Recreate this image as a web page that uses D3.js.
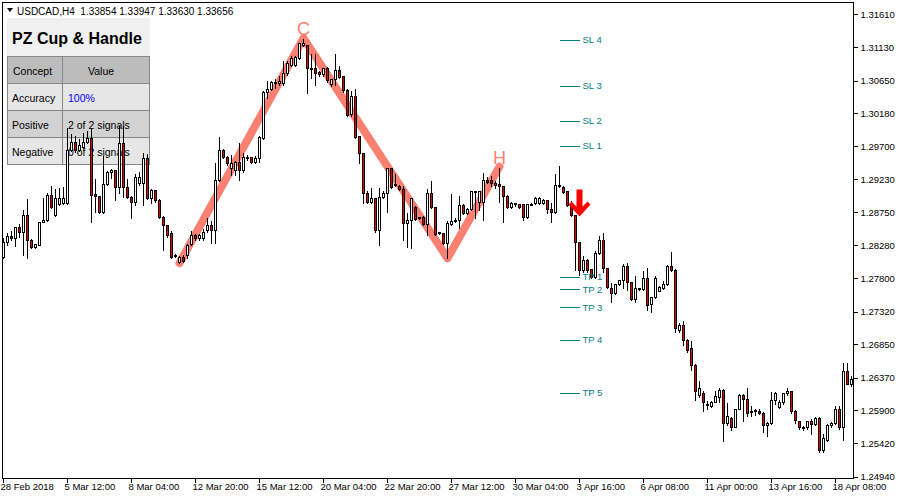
<!DOCTYPE html>
<html><head><meta charset="utf-8">
<script src="https://cdn.jsdelivr.net/npm/d3@7"></script>
<style>
html,body{margin:0;padding:0;background:#fff;}
svg{display:block;font-family:"Liberation Sans",Arial,sans-serif;}
</style>
</head><body>
<svg id="c" width="900" height="500"></svg>
<script>
// ---------- DATA (USDCAD, H4) ----------
const openP = [1.2811,1.2833,1.2841,1.2838,1.2854,1.2847,1.2871,1.2835,1.2825,1.2828,1.2861,1.2864,1.2900,1.2871,1.2887,1.2889,1.2889,1.2965,1.2977,1.2965,1.2969,1.2977,1.2982,1.2902,1.2899,1.2876,1.2916,1.2933,1.2936,1.2912,1.2975,1.2912,1.2897,1.2890,1.2917,1.2917,1.2953,1.2896,1.2907,1.2893,1.2869,1.2857,1.2845,1.2812,1.2804,1.2811,1.2814,1.2830,1.2843,1.2838,1.2838,1.2850,1.2857,1.2850,1.2922,1.2965,1.2955,1.2939,1.2936,1.2948,1.2936,1.2953,1.2955,1.2948,1.2953,1.2982,1.3049,1.3053,1.3061,1.3061,1.3061,1.3076,1.3087,1.3087,1.3097,1.3116,1.3116,1.3083,1.3083,1.3077,1.3074,1.3083,1.3060,1.3067,1.3080,1.3072,1.3051,1.3017,1.3043,1.2985,1.2961,1.2903,1.2890,1.2896,1.2850,1.2897,1.2903,1.2939,1.2915,1.2913,1.2909,1.2860,1.2864,1.2883,1.2867,1.2869,1.2858,1.2903,1.2883,1.2845,1.2845,1.2831,1.2858,1.2863,1.2864,1.2886,1.2874,1.2880,1.2906,1.2890,1.2890,1.2922,1.2922,1.2917,1.2916,1.2913,1.2899,1.2883,1.2889,1.2887,1.2887,1.2869,1.2887,1.2889,1.2889,1.2889,1.2893,1.2880,1.2876,1.2915,1.2912,1.2906,1.2886,1.2871,1.2833,1.2792,1.2807,1.2794,1.2782,1.2817,1.2835,1.2795,1.2766,1.2759,1.2772,1.2778,1.2798,1.2775,1.2750,1.2765,1.2765,1.2781,1.2743,1.2753,1.2762,1.2766,1.2772,1.2798,1.2792,1.2706,1.2713,1.2691,1.2680,1.2655,1.2612,1.2615,1.2599,1.2596,1.2602,1.2609,1.2619,1.2572,1.2579,1.2566,1.2592,1.2612,1.2606,1.2588,1.2589,1.2589,1.2586,1.2568,1.2572,1.2604,1.2595,1.2602,1.2614,1.2618,1.2589,1.2575,1.2565,1.2565,1.2575,1.2570,1.2578,1.2532,1.2547,1.2568,1.2572,1.2591,1.2565,1.2647,1.2628];
const highP = [1.2840,1.2847,1.2850,1.2856,1.2860,1.2880,1.2896,1.2838,1.2831,1.2863,1.2897,1.2905,1.2915,1.2910,1.2912,1.2913,1.2998,1.2989,1.2987,1.2982,1.2991,1.2994,1.2998,1.2925,1.2900,1.2958,1.2936,1.2939,1.2938,1.3001,1.3001,1.2925,1.2900,1.2932,1.2935,1.2962,1.2961,1.2910,1.2909,1.2896,1.2871,1.2858,1.2850,1.2817,1.2814,1.2815,1.2831,1.2850,1.2845,1.2845,1.2853,1.2869,1.2864,1.2948,1.2985,1.2968,1.2958,1.2959,1.2951,1.2977,1.2962,1.2959,1.2956,1.2958,1.2987,1.3051,1.3066,1.3066,1.3069,1.3073,1.3095,1.3095,1.3102,1.3102,1.3121,1.3126,1.3118,1.3105,1.3105,1.3080,1.3085,1.3086,1.3069,1.3105,1.3087,1.3073,1.3054,1.3051,1.3054,1.2987,1.2962,1.2907,1.2912,1.2897,1.2912,1.2907,1.2941,1.2941,1.2932,1.2916,1.2915,1.2876,1.2897,1.2886,1.2870,1.2871,1.2910,1.2922,1.2884,1.2848,1.2847,1.2864,1.2903,1.2869,1.2900,1.2889,1.2883,1.2907,1.2907,1.2907,1.2933,1.2928,1.2929,1.2922,1.2941,1.2915,1.2902,1.2892,1.2890,1.2889,1.2889,1.2889,1.2890,1.2899,1.2899,1.2896,1.2894,1.2890,1.2932,1.2943,1.2915,1.2907,1.2893,1.2873,1.2833,1.2814,1.2809,1.2795,1.2821,1.2843,1.2847,1.2797,1.2775,1.2773,1.2779,1.2802,1.2804,1.2776,1.2785,1.2768,1.2792,1.2797,1.2755,1.2785,1.2771,1.2778,1.2801,1.2820,1.2795,1.2717,1.2720,1.2694,1.2691,1.2658,1.2634,1.2619,1.2605,1.2605,1.2619,1.2624,1.2622,1.2602,1.2582,1.2593,1.2615,1.2615,1.2624,1.2598,1.2593,1.2593,1.2588,1.2575,1.2617,1.2618,1.2606,1.2615,1.2624,1.2619,1.2591,1.2576,1.2568,1.2576,1.2579,1.2581,1.2581,1.2557,1.2572,1.2575,1.2598,1.2598,1.2660,1.2660,1.2640];
const lowP = [1.2809,1.2828,1.2835,1.2827,1.2840,1.2814,1.2809,1.2824,1.2824,1.2828,1.2861,1.2863,1.2881,1.2870,1.2886,1.2887,1.2887,1.2964,1.2962,1.2964,1.2968,1.2975,1.2861,1.2876,1.2874,1.2874,1.2915,1.2925,1.2893,1.2903,1.2897,1.2896,1.2867,1.2886,1.2915,1.2886,1.2894,1.2889,1.2890,1.2867,1.2821,1.2840,1.2809,1.2811,1.2802,1.2804,1.2809,1.2828,1.2835,1.2835,1.2835,1.2847,1.2831,1.2831,1.2920,1.2953,1.2943,1.2929,1.2929,1.2922,1.2933,1.2951,1.2946,1.2946,1.2948,1.2981,1.3040,1.3051,1.3054,1.3059,1.3059,1.3073,1.3086,1.3086,1.3096,1.3115,1.3047,1.3069,1.3059,1.3072,1.3072,1.3063,1.3057,1.3059,1.3069,1.3049,1.3014,1.3014,1.2982,1.2946,1.2889,1.2889,1.2889,1.2847,1.2828,1.2896,1.2876,1.2910,1.2913,1.2907,1.2835,1.2825,1.2824,1.2864,1.2866,1.2857,1.2843,1.2881,1.2843,1.2844,1.2830,1.2809,1.2857,1.2861,1.2853,1.2873,1.2873,1.2879,1.2867,1.2879,1.2864,1.2917,1.2913,1.2910,1.2890,1.2861,1.2881,1.2881,1.2884,1.2881,1.2864,1.2867,1.2886,1.2887,1.2887,1.2887,1.2874,1.2861,1.2874,1.2912,1.2903,1.2884,1.2870,1.2792,1.2785,1.2789,1.2789,1.2781,1.2781,1.2815,1.2789,1.2766,1.2746,1.2758,1.2771,1.2766,1.2763,1.2749,1.2746,1.2763,1.2763,1.2735,1.2732,1.2752,1.2761,1.2765,1.2771,1.2791,1.2703,1.2703,1.2684,1.2674,1.2648,1.2605,1.2609,1.2588,1.2591,1.2595,1.2601,1.2602,1.2545,1.2569,1.2562,1.2565,1.2591,1.2575,1.2581,1.2582,1.2583,1.2585,1.2559,1.2552,1.2570,1.2599,1.2593,1.2599,1.2612,1.2586,1.2572,1.2563,1.2562,1.2563,1.2555,1.2569,1.2530,1.2529,1.2546,1.2566,1.2570,1.2563,1.2547,1.2627,1.2625];
const closeP = [1.2833,1.2841,1.2838,1.2854,1.2847,1.2871,1.2835,1.2825,1.2830,1.2861,1.2864,1.2900,1.2883,1.2896,1.2896,1.2896,1.2965,1.2977,1.2965,1.2972,1.2977,1.2982,1.2900,1.2899,1.2876,1.2916,1.2933,1.2936,1.2912,1.2975,1.2912,1.2897,1.2890,1.2926,1.2926,1.2953,1.2896,1.2907,1.2893,1.2869,1.2857,1.2843,1.2811,1.2814,1.2811,1.2805,1.2828,1.2843,1.2838,1.2843,1.2847,1.2857,1.2850,1.2922,1.2965,1.2955,1.2946,1.2946,1.2948,1.2936,1.2955,1.2955,1.2948,1.2953,1.2984,1.3049,1.3053,1.3063,1.3063,1.3064,1.3076,1.3090,1.3097,1.3099,1.3119,1.3119,1.3083,1.3082,1.3076,1.3074,1.3083,1.3066,1.3067,1.3080,1.3070,1.3051,1.3015,1.3043,1.2984,1.2961,1.2903,1.2890,1.2896,1.2850,1.2897,1.2903,1.2939,1.2912,1.2916,1.2909,1.2860,1.2864,1.2896,1.2866,1.2869,1.2858,1.2903,1.2883,1.2844,1.2847,1.2831,1.2860,1.2863,1.2864,1.2886,1.2874,1.2880,1.2906,1.2905,1.2906,1.2922,1.2919,1.2917,1.2915,1.2913,1.2899,1.2883,1.2889,1.2887,1.2883,1.2869,1.2887,1.2886,1.2896,1.2896,1.2893,1.2880,1.2876,1.2915,1.2913,1.2905,1.2886,1.2871,1.2833,1.2792,1.2807,1.2792,1.2782,1.2817,1.2835,1.2795,1.2768,1.2759,1.2772,1.2778,1.2798,1.2775,1.2750,1.2766,1.2766,1.2781,1.2742,1.2753,1.2781,1.2768,1.2772,1.2798,1.2792,1.2709,1.2713,1.2691,1.2677,1.2655,1.2617,1.2622,1.2601,1.2598,1.2602,1.2611,1.2619,1.2572,1.2581,1.2566,1.2592,1.2612,1.2606,1.2586,1.2587,1.2590,1.2586,1.2568,1.2572,1.2604,1.2614,1.2602,1.2614,1.2618,1.2589,1.2576,1.2566,1.2564,1.2575,1.2570,1.2578,1.2532,1.2550,1.2568,1.2572,1.2591,1.2565,1.2647,1.2628,1.2635];

const xTickBars   = [0,16,32,48,64,80,96,112,128,144,160,176,192,208];
const xTickLabels = ["28 Feb 2018","5 Mar 12:00","8 Mar 04:00","12 Mar 20:00","15 Mar 12:00","20 Mar 04:00","22 Mar 20:00","27 Mar 12:00","30 Mar 04:00","3 Apr 16:00","6 Apr 08:00","11 Apr 00:00","13 Apr 16:00","18 Apr 08:00"];
const yTickValues = [1.31610,1.31130,1.30650,1.30180,1.29700,1.29230,1.28750,1.28280,1.27800,1.27320,1.26850,1.26370,1.25900,1.25420,1.24940];

const levelLabels = ["SL 4","SL 3","SL 2","SL 1","TP 1","TP 2","TP 3","TP 4","TP 5"];
const levelValues = [1.3124,1.3057,1.3007,1.2971,1.2782,1.2764,1.2738,1.2691,1.2615];
const levelStartBar = 139, levelEndBar = 144;

const patternBars   = [44, 75, 111, 124];
const patternPrices = [1.2802, 1.3126, 1.2809, 1.2941];
const patternLabels = ["", "C", "", "H"];

const signalBar = 144, signalPrice = 1.2869;

const headerSymbol = "USDCAD,H4";
const headerQuotes = ["1.33854","1.33947","1.33630","1.33656"];
const panelTitle = "PZ Cup & Handle";
const tableHead = ["Concept","Value"];
const tableConcepts = ["Accuracy","Positive","Negative"];
const tableValues = ["100%","2 of 2 signals","0 of 2 signals"];

// ---------- DRAW ----------
const svg = d3.select("#c");
const x = d3.scaleLinear().domain([0, 212]).range([3, 851]);
const y = d3.scaleLinear().domain([1.24940, 1.31610]).range([476.7, 14]);
const cx = i => x(i) + 0.5;
const ry = v => Math.round(y(v)) + 0.5;
const FS = "9.5px";

// header
svg.append("path").attr("d","M7,8 L13,8 L10,12 Z").attr("fill","#000");
svg.append("text").attr("x",17).attr("y",14.5).attr("font-size","10px").attr("fill","#000")
  .style("white-space","pre").text(headerSymbol + "  " + headerQuotes.join(" "));

// info panel (behind the candles)
const tb = svg.append("g").attr("shape-rendering","crispEdges");
tb.append("rect").attr("x",7).attr("y",18).attr("width",143).attr("height",38).attr("fill","#f0f0f0");
tb.append("text").attr("x",12).attr("y",43.5).attr("font-size","16px").attr("font-weight","bold")
  .attr("fill","#000").text(panelTitle);
const rowFill = ["#e6e6e6","#d2d2d2","#e6e6e6"];
tb.append("rect").attr("x",7.5).attr("y",56.5).attr("width",142).attr("height",27).attr("fill","#bcbcbc");
tableConcepts.forEach((c,k)=>{
  tb.append("rect").attr("x",7.5).attr("y",83.5+27*k).attr("width",142).attr("height",27).attr("fill",rowFill[k]);
});
const bc = "#878787";
tb.append("rect").attr("x",7.5).attr("y",56.5).attr("width",142).attr("height",108)
  .attr("fill","none").attr("stroke",bc).attr("stroke-width",1.5);
[83.5,110.5,137.5].forEach(v=>tb.append("line").attr("x1",7.5).attr("x2",149.5).attr("y1",v).attr("y2",v).attr("stroke",bc).attr("stroke-width",1.5));
tb.append("line").attr("x1",62.5).attr("x2",62.5).attr("y1",56.5).attr("y2",164.5).attr("stroke",bc).attr("stroke-width",1.5);
const tf = "10.5px";
tb.append("text").attr("x",13).attr("y",75).attr("font-size",tf).text(tableHead[0]);
tb.append("text").attr("x",88).attr("y",75).attr("font-size",tf).text(tableHead[1]);
tableConcepts.forEach((c,k)=>{
  tb.append("text").attr("x",12).attr("y",102+27*k).attr("font-size",tf).text(c);
  tb.append("text").attr("x",68).attr("y",102+27*k).attr("font-size",tf)
    .attr("fill", k===0 ? "#0000ff" : "#000").text(tableValues[k]);
});

// frame
svg.append("rect").attr("x",2.5).attr("y",2.5).attr("width",851).attr("height",476)
  .attr("fill","none").attr("stroke","#000").attr("shape-rendering","crispEdges");

// right axis
const ya = svg.append("g").attr("transform","translate(853.5,0)")
  .call(d3.axisRight(y).tickValues(yTickValues).tickSize(4).tickPadding(3).tickFormat(d3.format(".5f")));
ya.select(".domain").remove();
ya.attr("font-family",null).attr("font-size",FS);
ya.selectAll("line").attr("shape-rendering","crispEdges");

// bottom axis
const xa = svg.append("g").attr("transform","translate(0,478.5)")
  .call(d3.axisBottom(x).tickValues(xTickBars).tickSize(4).tickPadding(1).tickFormat((d,k)=>xTickLabels[k]));
xa.select(".domain").remove();
xa.attr("font-family",null).attr("font-size",FS).attr("text-anchor","start");
xa.selectAll("text").attr("x",-3);
xa.selectAll("line").attr("shape-rendering","crispEdges");

// pattern line
const pts = patternBars.map((b,k)=>[cx(b), y(patternPrices[k])]);
svg.append("path").attr("d", d3.line()(pts)).attr("fill","none").attr("stroke","#fa8072")
  .attr("stroke-width",8).attr("stroke-linejoin","round").attr("stroke-linecap","round");
patternLabels.forEach((t,k)=>{
  if(!t) return;
  svg.append("text").attr("x",cx(patternBars[k])).attr("y",y(patternPrices[k])-3)
    .attr("text-anchor","middle").attr("font-size","18px").attr("fill","#fa8072").text(t);
});

// candles
const idx = d3.range(openP.length);
const cg = svg.append("g").attr("shape-rendering","crispEdges");
cg.selectAll("line.w").data(idx).join("line").attr("class","w")
  .attr("x1",i=>cx(i)).attr("x2",i=>cx(i))
  .attr("y1",i=>ry(highP[i])).attr("y2",i=>ry(lowP[i]))
  .attr("stroke","#000");
cg.selectAll("path.b").data(idx).join("path").attr("class","b")
  .attr("d",i=>{
    const t = ry(Math.max(openP[i],closeP[i])), b = ry(Math.min(openP[i],closeP[i]));
    const x0 = x(i) - 0.5;
    return `M${x0},${t}H${x0+2}V${b}H${x0}Z`;
  })
  .attr("fill",i=> closeP[i] >= openP[i] ? "#ffffff" : "#e00000")
  .attr("stroke","#000");

// SL / TP levels
const lg = svg.append("g");
levelValues.forEach((v,k)=>{
  lg.append("line").attr("x1",cx(levelStartBar)).attr("x2",cx(levelEndBar))
    .attr("y1",ry(v)).attr("y2",ry(v)).attr("stroke","#008080").attr("shape-rendering","crispEdges");
  lg.append("text").attr("x",cx(levelEndBar)+3).attr("y",y(v)).attr("dy","0.35em")
    .attr("font-size",FS).attr("fill","#008080").text(levelLabels[k]);
});

// sell arrow
const ax = cx(signalBar), ay = y(signalPrice);
svg.append("path")
  .attr("d","M0,0 L-11,-12 L-8,-15 L-3,-10 L-3,-27 L3,-27 L3,-10 L8,-15 L11,-12 Z")
  .attr("transform",`translate(${ax},${ay})`).attr("fill","#ff0000");
</script>
</body></html>
